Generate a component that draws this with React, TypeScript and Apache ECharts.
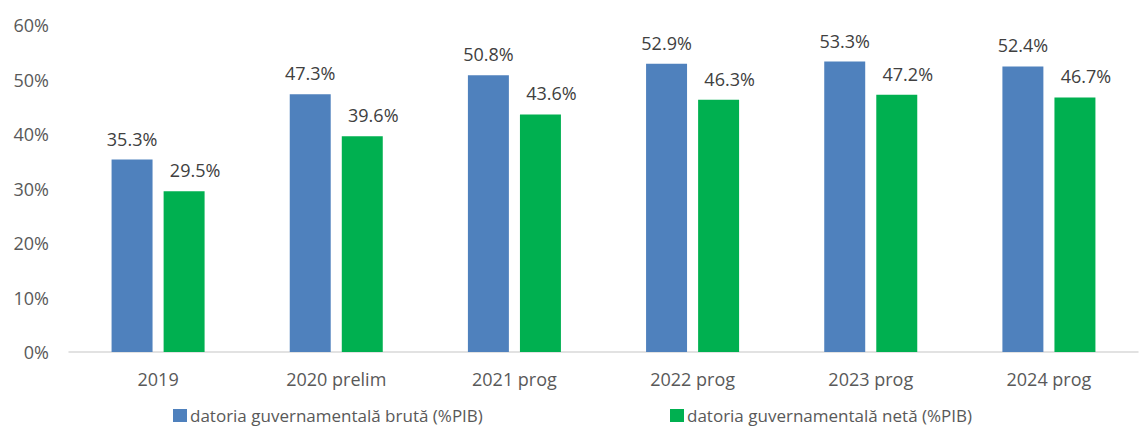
import React, { useEffect, useRef } from "react";
import * as echarts from "echarts";

const categories = ["2019", "2020 prelim", "2021 prog", "2022 prog", "2023 prog", "2024 prog"];
const grossDebt = [35.3, 47.3, 50.8, 52.9, 53.3, 52.4];
const netDebt = [29.5, 39.6, 43.6, 46.3, 47.2, 46.7];
const seriesNames = ["datoria guvernamentală brută (%PIB)", "datoria guvernamentală netă (%PIB)"];

const FONT = "Open Sans";
const GRAY = "#595959";
const FS = 18;

export default function App() {
  const ref = useRef<HTMLDivElement>(null);
  useEffect(() => {
    document.body.style.margin = "0";
    const chart = echarts.init(ref.current!, null, { renderer: "svg" });
    const legendBase = {
      bottom: 0,
      itemWidth: 14,
      itemHeight: 13,
      itemGap: 0,
      icon: "rect",
      padding: [2, 5, 2, 5],
      textStyle: { color: GRAY, fontSize: 17, fontFamily: FONT, padding: [0, 0, 0, -2] },
    };
    chart.setOption({
      animation: false,
      textStyle: { fontFamily: FONT },
      grid: { left: 69, right: 2, top: 25, bottom: 74 },
      legend: [
        { ...legendBase, left: 168, data: [seriesNames[0]] },
        { ...legendBase, left: 665, data: [seriesNames[1]] },
      ],
      xAxis: {
        type: "category",
        data: categories,
        axisLine: { lineStyle: { color: "#d9d9d9", width: 1.5 } },
        axisTick: { show: false },
        axisLabel: { color: GRAY, fontSize: FS, margin: 18, fontFamily: FONT },
      },
      yAxis: {
        type: "value",
        min: 0,
        max: 60,
        interval: 10,
        splitLine: { show: false },
        axisLine: { show: false },
        axisLabel: { color: GRAY, fontSize: FS, margin: 20, formatter: "{value}%", fontFamily: FONT },
      },
      series: [
        {
          name: seriesNames[0],
          type: "bar",
          data: grossDebt,
          barWidth: "23%",
          barGap: "27%",
          itemStyle: { color: "#4F81BD" },
          label: {
            show: true,
            position: "top",
            distance: 12,
            color: "#404040",
            fontSize: FS,
            fontFamily: FONT,
            formatter: (p: any) => p.value.toFixed(1) + "%",
          },
        },
        {
          name: seriesNames[1],
          type: "bar",
          data: netDebt,
          barWidth: "23%",
          itemStyle: { color: "#00B050" },
          label: {
            show: true,
            position: "top",
            distance: 12,
            offset: [11, 0],
            color: "#404040",
            fontSize: FS,
            fontFamily: FONT,
            formatter: (p: any) => p.value.toFixed(1) + "%",
          },
        },
      ],
    });
    return () => chart.dispose();
  }, []);
  return <div ref={ref} style={{ width: 1140, height: 426 }} />;
}
